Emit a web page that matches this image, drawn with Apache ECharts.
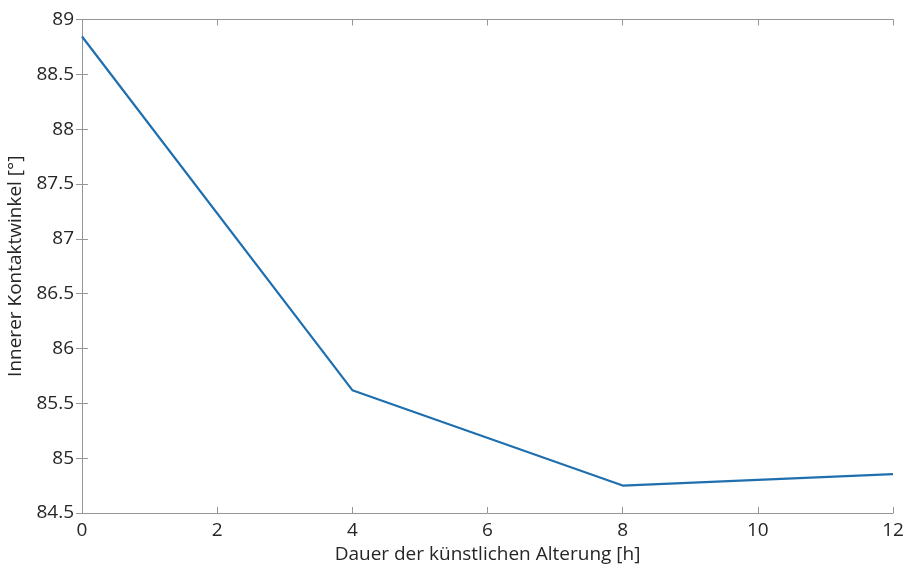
<!DOCTYPE html>
<html><head><meta charset="utf-8">
<script src="https://cdn.jsdelivr.net/npm/echarts@6/dist/echarts.min.js"></script>
<style>html,body{margin:0;padding:0;background:#fff}#c{width:905px;height:568px}</style>
</head><body><div id="c"></div>
<script>
const hours = [0, 4, 8, 12];
const angles = [88.845, 85.62, 84.75, 84.855];
const xTicks = [0, 2, 4, 6, 8, 10, 12];
const yTicks = [84.5, 85, 85.5, 86, 86.5, 87, 87.5, 88, 88.5, 89];
const xLabel = 'Dauer der künstlichen Alterung [h]';
const yLabel = 'Innerer Kontaktwinkel [°]';

const axisCol = '#959595';
const txtCol = '#262626';
const font = 'Open Sans';
const chart = echarts.init(document.getElementById('c'));
const baseX = {type:'value', min:xTicks[0], max:xTicks[xTicks.length-1], interval:2,
  axisLine:{show:true,lineStyle:{color:axisCol,width:1}},
  axisTick:{show:true,inside:true,length:6,lineStyle:{color:axisCol}},
  splitLine:{show:false}};
const baseY = {type:'value', min:yTicks[0], max:yTicks[yTicks.length-1], interval:0.5,
  axisLine:{show:true,lineStyle:{color:axisCol,width:1}},
  axisTick:{show:true,inside:true,length:6,lineStyle:{color:axisCol}},
  splitLine:{show:false}};
chart.setOption({
  animation:false,
  grid:{left:82,right:12,top:19.5,bottom:55,containLabel:false,outerBoundsMode:'none'},
  xAxis:[
    Object.assign({}, baseX, {position:'bottom', name:xLabel, nameLocation:'middle', nameGap:32,
      nameTextStyle:{color:txtCol,fontSize:19,fontFamily:font},
      axisLabel:{color:txtCol,fontSize:19,fontFamily:font,margin:8}}),
    Object.assign({}, baseX, {position:'top', axisLabel:{show:false}})
  ],
  yAxis:[
    Object.assign({}, baseY, {position:'left', name:yLabel, nameLocation:'middle', nameGap:54,
      nameTextStyle:{color:txtCol,fontSize:19,fontFamily:font},
      axisLabel:{color:txtCol,fontSize:19,fontFamily:font,margin:8,
        formatter:v=>String(Math.round(v*10)/10)}}),
    Object.assign({}, baseY, {position:'right', axisLabel:{show:false}})
  ],
  series:[{type:'line', data:hours.map((h,i)=>[h,angles[i]]), showSymbol:false,
    lineStyle:{color:'#1f6fae',width:2.2}, itemStyle:{color:'#1f6fae'}}]
});
</script></body></html>
